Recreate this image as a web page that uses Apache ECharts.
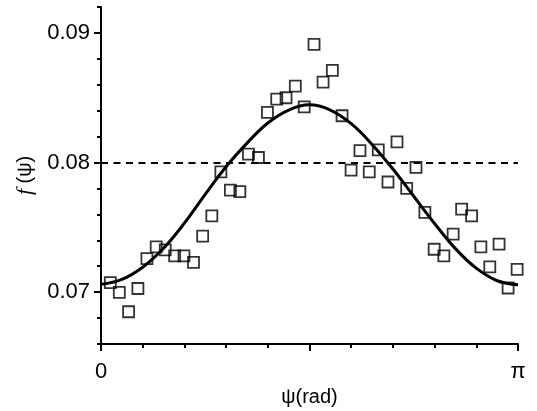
<!DOCTYPE html>
<html>
<head>
<meta charset="utf-8">
<script src="https://cdn.jsdelivr.net/npm/echarts@6/dist/echarts.min.js"></script>
<style>
  html, body { margin: 0; padding: 0; background: #fff; }
  #chart { width: 537px; height: 411px; }
</style>
</head>
<body>
<div id="chart"></div>
<script>
// measured points, psi in rad
const psiData = [0.070, 0.138, 0.208, 0.278, 0.346, 0.416, 0.484, 0.555, 0.625, 0.697,
  0.766, 0.835, 0.903, 0.975, 1.046, 1.111, 1.186, 1.254, 1.324, 1.394,
  1.464, 1.531, 1.605, 1.673, 1.743, 1.816, 1.884, 1.951, 2.021, 2.089,
  2.162, 2.230, 2.303, 2.373, 2.440, 2.510, 2.583, 2.653, 2.717, 2.792,
  2.862, 2.929, 2.999, 3.067, 3.135];
const fData = [0.07074, 0.06999, 0.06849, 0.07028, 0.07259, 0.07349, 0.07326, 0.0728, 0.0728, 0.07229,
  0.07432, 0.07588, 0.07928, 0.07787, 0.07775, 0.08065, 0.08039, 0.08387, 0.0849, 0.085,
  0.0859, 0.0843, 0.08912, 0.08621, 0.08711, 0.08361, 0.07941, 0.08092, 0.07928, 0.08098,
  0.0785, 0.0816, 0.078, 0.07962, 0.07615, 0.07331, 0.0728, 0.07447, 0.0764, 0.07588,
  0.07349, 0.07195, 0.0737, 0.07032, 0.07175];

// fitted curve
const curvePsi = [0, 0.157, 0.314, 0.471, 0.628, 0.785, 0.942, 1.100, 1.257, 1.414, 1.571,
  1.728, 1.885, 2.042, 2.199, 2.356, 2.513, 2.670, 2.827, 2.985, 3.142];
const curveF = [0.07060, 0.07098, 0.07192, 0.07338, 0.07532, 0.07755, 0.07968, 0.08150, 0.08305, 0.08405, 0.08445,
  0.08405, 0.08300, 0.08140, 0.07950, 0.07740, 0.07530, 0.07336, 0.07185, 0.07088, 0.07058];

const refValue = 0.07959;
const yLabels = [0.07, 0.08, 0.09];

const FONT = '"Liberation Sans", Arial, sans-serif';
const chart = echarts.init(document.getElementById('chart'));

const axisLine = { show: true, lineStyle: { color: '#000', width: 2 } };

chart.setOption({
  animation: false,
  grid: { left: 101, right: 19, top: 7, bottom: 67, outerBoundsMode: 'none', containLabel: false },
  xAxis: {
    type: 'value',
    min: 0,
    max: Math.PI,
    interval: Math.PI / 2,
    name: 'ψ(rad)',
    nameLocation: 'middle',
    nameGap: 41,
    nameTextStyle: { fontFamily: FONT, fontSize: 20, color: '#000' },
    axisLine,
    axisTick: { show: true, length: 7, lineStyle: { color: '#000', width: 2 } },
    minorTick: { show: true, splitNumber: 5, length: 4, lineStyle: { color: '#000', width: 2 } },
    splitLine: { show: false },
    axisLabel: {
      margin: 17,
      fontFamily: FONT,
      fontSize: 22,
      color: '#000',
      showMinLabel: true,
      showMaxLabel: true,
      formatter(v) {
        if (Math.abs(v) < 1e-6) return '0';
        if (Math.abs(v - Math.PI) < 1e-6) return 'π';
        return '';
      }
    }
  },
  yAxis: [
    {
      type: 'value',
      min: 0.066,
      max: 0.092,
      interval: 0.002,
      position: 'left',
      axisLine,
      axisTick: { show: true, length: 4, lineStyle: { color: '#000', width: 2 } },
      axisLabel: { show: false },
      splitLine: { show: false }
    },
    {
      type: 'value',
      min: 0.066,
      max: 0.092,
      position: 'left',
      offset: 0,
      name: '{i|f} (ψ)',
      nameLocation: 'middle',
      nameGap: 64,
      nameRotate: 90,
      nameTextStyle: {
        fontFamily: FONT, fontSize: 20, color: '#000',
        rich: { i: { fontFamily: '"Liberation Serif", serif', fontStyle: 'italic', fontSize: 22, color: '#000' } }
      },
      axisLine: { show: false },
      axisTick: { show: true, customValues: yLabels, length: 7, lineStyle: { color: '#000', width: 2 } },
      axisLabel: {
        customValues: yLabels,
        margin: 11,
        fontFamily: FONT,
        fontSize: 22,
        color: '#000',
        formatter: v => v.toFixed(2)
      },
      splitLine: { show: false }
    }
  ],
  series: [
    {
      type: 'line',
      data: curvePsi.map((x, i) => [x, curveF[i]]),
      smooth: 0.4,
      symbol: 'none',
      lineStyle: { color: '#000', width: 3 },
      z: 2
    },
    {
      type: 'scatter',
      data: psiData.map((x, i) => [x, fData[i]]),
      symbol: 'rect',
      symbolSize: 11,
      itemStyle: { color: 'rgba(255,255,255,0)', borderColor: '#000', borderWidth: 1.8 },
      z: 3,
      markLine: {
        silent: true,
        symbol: 'none',
        label: { show: false },
        lineStyle: { color: '#000', width: 2, type: [7, 5.5] },
        data: [{ yAxis: refValue }]
      }
    }
  ]
});
</script>
</body>
</html>
